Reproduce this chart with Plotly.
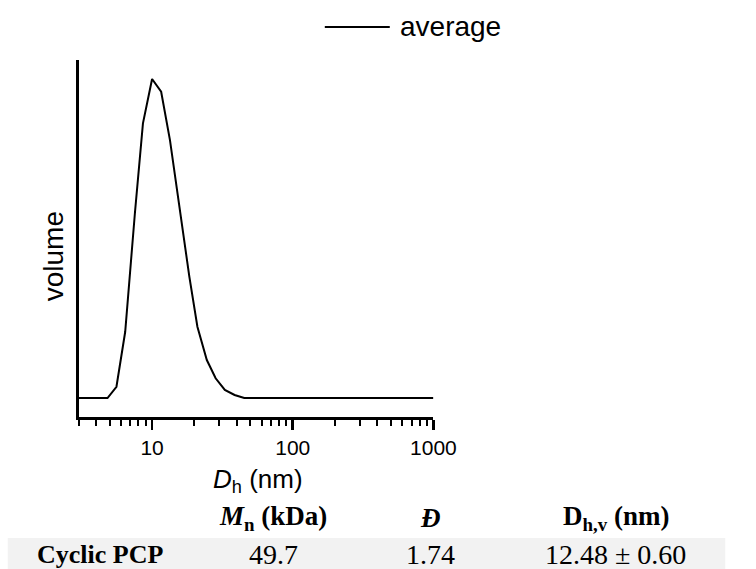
import plotly.graph_objects as go

# ---- data ----
diameter_nm = [3.0, 4.82, 5.58, 6.44, 7.55, 8.61, 10.0, 11.6, 13.4, 15.7, 18.4,
               21.0, 24.5, 28.3, 32.9, 38.6, 45.2, 1000]
volume = [0, 0, 0.74, 4.36, 12.18, 18.08, 21.0, 20.16, 16.98, 12.59, 7.99,
          4.69, 2.50, 1.30, 0.53, 0.20, 0, 0]
series_name = "average"

major_ticks = [10, 100, 1000]
minor_ticks = [3, 4, 5, 6, 7, 8, 9, 20, 30, 40, 50, 60, 70, 80, 90,
               200, 300, 400, 500, 600, 700, 800, 900]

table_header = ["", "<b><i>M</i><sub>n</sub> (kDa)</b>", "<b><i>Đ</i></b>",
                "<b>D<sub>h,v</sub> (nm)</b>"]
table_row = ["<b>Cyclic PCP</b>", "49.7", "1.74", "12.48 ± 0.60"]

W, H = 756, 569


def px_x(x):
    return x / W


def px_y(y):
    return (H - y) / H


fig = go.Figure()
fig.add_trace(go.Scatter(x=diameter_nm, y=volume, mode="lines", name=series_name,
                         line=dict(color="black", width=2), showlegend=False,
                         hoverinfo="skip"))

fig.update_layout(
    width=W, height=H,
    margin=dict(l=0, r=0, t=0, b=0),
    paper_bgcolor="white", plot_bgcolor="white",
    font=dict(family="Liberation Sans, Arial, sans-serif", color="black", size=21),
    xaxis=dict(
        type="log", range=[0.4771, 3.0], domain=[px_x(81), px_x(447)],
        showgrid=False, zeroline=False, showline=True, linecolor="black", linewidth=3,
        tickmode="array", tickvals=major_ticks, ticktext=[str(v) for v in major_ticks],
        ticks="outside", ticklen=10, tickwidth=2.5, tickcolor="black",
        tickfont=dict(size=21),
        minor=dict(ticks="outside", ticklen=6, tickwidth=2, tickcolor="black",
                   tickvals=minor_ticks, showgrid=False),
        anchor="y",
    ),
    yaxis=dict(
        range=[-1.25, 22.25], domain=[px_y(417), px_y(60)],
        showgrid=False, zeroline=False, showline=True, linecolor="black", linewidth=3,
        showticklabels=False, ticks="", anchor="x",
    ),
)

# axis titles
fig.add_annotation(text="<i>D</i><sub>h</sub> (nm)", xref="paper", yref="paper",
                   x=px_x(266), y=px_y(480), showarrow=False, font=dict(size=26),
                   xanchor="center", yanchor="middle")
fig.add_annotation(text="volume", xref="paper", yref="paper", textangle=-90,
                   x=px_x(56), y=px_y(256), showarrow=False, font=dict(size=28),
                   xanchor="center", yanchor="middle")

# legend (line sample + label)
fig.add_shape(type="line", xref="paper", yref="paper",
              x0=px_x(335), x1=px_x(402), y0=px_y(27), y1=px_y(27),
              line=dict(color="black", width=2))
fig.add_annotation(text=series_name, xref="paper", yref="paper",
                   x=px_x(410), y=px_y(27), showarrow=False, font=dict(size=28),
                   xanchor="left", yanchor="middle")

# table
fig.add_shape(type="rect", xref="paper", yref="paper",
              x0=px_x(8), x1=px_x(748), y0=px_y(569), y1=px_y(538),
              fillcolor="#f2f2f2", line=dict(width=0), layer="below")
col_x = [103, 282, 444, 635]
serif = "Liberation Serif, serif"
for i, (cx, h, r) in enumerate(zip(col_x, table_header, table_row)):
    if h:
        fig.add_annotation(text=h, xref="paper", yref="paper", x=px_x(cx), y=px_y(518),
                           showarrow=False, xanchor="center", yanchor="middle",
                           font=dict(family=serif, size=27))
    fig.add_annotation(text=r, xref="paper", yref="paper", x=px_x(cx), y=px_y(554),
                       showarrow=False, xanchor="center", yanchor="middle",
                       font=dict(family=serif, size=26 if i == 0 else 28))

fig.write_html(
    "out.html",
    config={"displayModeBar": False, "staticPlot": True},
    post_script=("document.body.style.margin='0px';"
                 "document.body.style.overflow='hidden';"
                 "document.documentElement.style.overflow='hidden';"),
)
